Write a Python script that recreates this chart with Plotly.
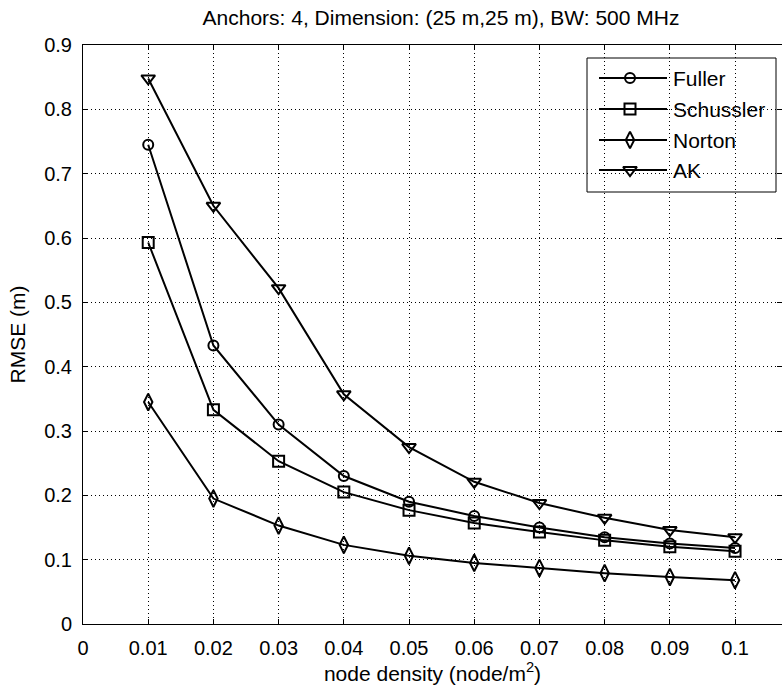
import plotly.graph_objects as go

x_vals = [0.01, 0.02, 0.03, 0.04, 0.05, 0.06, 0.07, 0.08, 0.09, 0.1]
fuller = [0.745, 0.433, 0.310, 0.230, 0.190, 0.168, 0.150, 0.135, 0.125, 0.118]
schussler = [0.593, 0.333, 0.253, 0.205, 0.177, 0.157, 0.143, 0.130, 0.120, 0.113]
norton = [0.345, 0.195, 0.153, 0.123, 0.106, 0.095, 0.087, 0.079, 0.073, 0.068]
ak = [0.848, 0.650, 0.522, 0.357, 0.275, 0.221, 0.188, 0.165, 0.146, 0.135]

series_names = ["Fuller", "Schussler", "Norton", "AK"]
series_values = [fuller, schussler, norton, ak]
series_symbols = ["circle-open", "square-open", "diamond-tall-open", "triangle-down-open"]
series_sizes = [10, 11, 12, 12]

x_ticks = [0, 0.01, 0.02, 0.03, 0.04, 0.05, 0.06, 0.07, 0.08, 0.09, 0.1]
x_ticktext = ["0", "0.01", "0.02", "0.03", "0.04", "0.05", "0.06", "0.07", "0.08", "0.09", "0.1"]
y_ticks = [0, 0.1, 0.2, 0.3, 0.4, 0.5, 0.6, 0.7, 0.8, 0.9]
y_ticktext = ["0", "0.1", "0.2", "0.3", "0.4", "0.5", "0.6", "0.7", "0.8", "0.9"]

FONT = "Liberation Sans, Arial, sans-serif"
W, H = 782, 693
L, T, B = 83, 45, 69

fig = go.Figure()
for name, vals, sym, sz in zip(series_names, series_values, series_symbols, series_sizes):
    fig.add_trace(go.Scatter(
        x=x_vals, y=vals, name=name, mode="lines+markers", showlegend=False,
        line=dict(color="black", width=2),
        marker=dict(symbol=sym, size=sz, color="black", line=dict(color="black", width=2)),
    ))

# Legend drawn on a hidden overlay axis measured in pixels (MATLAB-style long sample lines)
legend_box = dict(x0=587, x1=776, y0=58, y1=192)
row_y = [78, 109, 140, 170]
for name, sym, sz, ry in zip(series_names, series_symbols, series_sizes, row_y):
    fig.add_trace(go.Scatter(
        x=[599, 630, 667], y=[H - ry] * 3, xaxis="x2", yaxis="y2",
        mode="lines", line=dict(color="black", width=2), showlegend=False, hoverinfo="skip"))
    fig.add_trace(go.Scatter(
        x=[630], y=[H - ry], xaxis="x2", yaxis="y2", mode="markers",
        marker=dict(symbol=sym, size=sz, color="black", line=dict(color="black", width=2)),
        showlegend=False, hoverinfo="skip"))
    fig.add_annotation(x=671, y=H - ry, xref="x2", yref="y2", text=name, showarrow=False,
                       xanchor="left", yanchor="middle",
                       font=dict(family=FONT, size=21, color="black"))

fig.add_shape(type="rect", xref="x2", yref="y2",
              x0=legend_box["x0"], x1=legend_box["x1"],
              y0=H - legend_box["y1"], y1=H - legend_box["y0"],
              line=dict(color="black", width=1), fillcolor="white", layer="below")

fig.update_layout(
    width=W, height=H,
    margin=dict(l=L, r=0, t=T, b=B),
    paper_bgcolor="white", plot_bgcolor="white",
    font=dict(family=FONT, size=20, color="black"),
    title=dict(text="Anchors: 4, Dimension: (25 m,25 m), BW: 500 MHz",
               x=441 / W, xanchor="center", y=1 - 18 / H, yanchor="middle",
               font=dict(family=FONT, size=21, color="black")),
    showlegend=False,
    xaxis2=dict(overlaying="x", range=[L, W], visible=False, anchor="y2"),
    yaxis2=dict(overlaying="y", range=[B, H - T], visible=False, anchor="x2"),
)

axis_common = dict(
    showline=True, linecolor="black", linewidth=1, mirror="allticks",
    ticks="inside", ticklen=5, tickcolor="black", tickwidth=1,
    showgrid=True, gridcolor="black", griddash="1px,3px", gridwidth=1,
    zeroline=False, automargin=False,
    tickfont=dict(family=FONT, size=20, color="black"),
)

fig.update_xaxes(range=[0, 0.1072], tickvals=x_ticks, ticktext=x_ticktext,
                 ticklabelstandoff=6,
                 title=dict(text="node density (node/m<sup>2</sup>)", standoff=6,
                            font=dict(family=FONT, size=21, color="black")),
                 selector=dict(overlaying=None), **axis_common)
fig.update_yaxes(range=[0, 0.9], tickvals=y_ticks, ticktext=y_ticktext,
                 ticklabelstandoff=6,
                 title=dict(text="RMSE (m)", standoff=12,
                            font=dict(family=FONT, size=21, color="black")),
                 selector=dict(overlaying=None), **axis_common)

fig.write_html("out.html")
